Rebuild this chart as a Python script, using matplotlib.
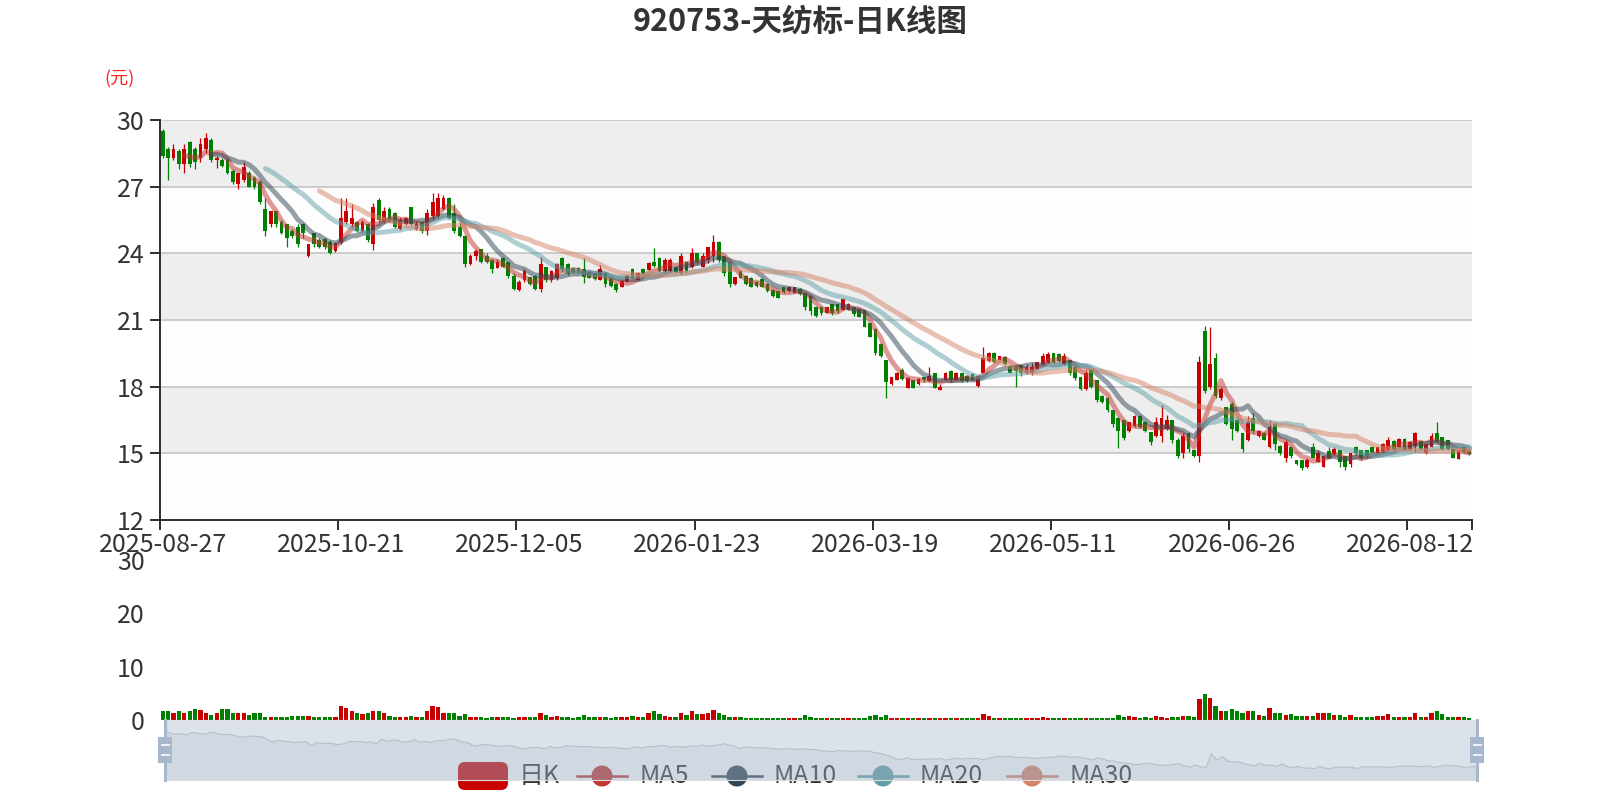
import numpy as np
import pandas as pd
import matplotlib
matplotlib.use("Agg")
import matplotlib.pyplot as plt
from matplotlib.patches import FancyBboxPatch, Rectangle, Circle

plt.rcParams['font.family'] = ['Noto Sans CJK SC', 'DejaVu Sans']

title = "920753-天纺标-日K线图"
unit_label = "(元)"
date_labels = ["2025-08-27", "2025-10-21", "2025-12-05", "2026-01-23",
               "2026-03-19", "2026-05-11", "2026-06-26", "2026-08-12"]
label_step = 33
legend_names = ["日K", "MA5", "MA10", "MA20", "MA30"]
ma_days = [5, 10, 20, 30]

opens = [
    29.5, 28.7, 28.3, 28.6, 28.0, 29.0, 28.7, 28.3, 28.7, 29.1,
    28.2, 28.2, 28.2, 27.7, 27.1, 27.3, 27.6, 27.4, 27.2, 26.0,
    25.3, 25.9, 25.4, 25.3, 25.0, 25.2, 25.3, 23.9, 24.9, 24.6,
    24.65, 24.5, 24.1, 24.5, 25.4, 25.3, 25.4, 25.0, 25.3, 24.4,
    26.4, 25.4, 26.0, 25.8, 25.1, 25.3, 26.1, 25.1, 25.4, 25.0,
    25.7, 25.7, 26.0, 26.5, 25.8, 25.2, 24.8, 23.5, 23.9, 24.2,
    23.9, 23.7, 23.35, 23.8, 23.6, 23.0, 22.35, 22.8, 22.95, 23.0,
    22.4, 23.4, 22.8, 22.9, 23.8, 23.5, 23.35, 23.35, 23.3, 23.15,
    23.1, 22.8, 23.1, 22.9, 22.6, 22.5, 22.7, 23.3, 22.8, 23.3,
    23.25, 23.6, 23.8, 23.2, 23.2, 23.4, 23.1, 23.6, 23.4, 24.0,
    23.4, 23.7, 23.9, 24.5, 23.9, 23.6, 22.6, 23.2, 23.0, 22.9,
    22.73, 22.85, 22.6, 22.35, 22.3, 22.5, 22.3, 22.2, 22.4, 22.2,
    22.1, 21.6, 21.6, 21.3, 21.7, 21.7, 21.45, 21.45, 21.6, 21.5,
    21.45, 20.85, 20.6, 19.9, 19.2, 18.1, 18.3, 18.75, 17.95, 18.3,
    18.1, 18.45, 18.25, 18.6, 17.85, 18.3, 18.7, 18.3, 18.6, 18.5,
    18.55, 18.05, 18.6, 19.15, 19.5, 19.2, 19.35, 18.95, 18.95, 18.98,
    18.6, 18.6, 18.8, 19.0, 19.1, 19.5, 19.45, 19.0, 19.2, 18.9,
    18.45, 17.9, 18.75, 18.3, 17.6, 17.5, 16.95, 16.6, 16.5, 16.0,
    16.25, 16.7, 16.4, 15.95, 15.8, 15.8, 16.1, 16.5, 15.6, 15.0,
    15.9, 15.15, 14.9, 20.5, 18.0, 19.3, 17.5, 17.1, 17.2, 16.5,
    15.9, 15.6, 16.6, 15.8, 15.9, 15.3, 16.3, 15.35, 14.8, 15.3,
    14.68, 14.7, 14.4, 15.3, 14.6, 14.4, 15.1, 14.95, 15.15, 14.9,
    14.5, 15.3, 15.15, 15.15, 15.3, 15.0, 15.1, 15.15, 15.55, 15.3,
    15.65, 15.2, 15.35, 15.55, 15.0, 15.3, 15.9, 15.75, 15.6, 15.2,
    14.75, 15.3, 15.1]

closes = [
    28.4, 28.3, 28.7, 28.0, 28.7, 28.0, 28.1, 28.9, 29.2, 28.2,
    28.3, 27.95, 27.6, 27.2, 27.6, 27.9, 27.0, 27.0, 26.3, 25.0,
    25.9, 25.3, 24.9, 24.7, 24.8, 24.4, 24.9, 24.4, 24.4, 24.3,
    24.3, 24.0, 24.45, 25.6, 25.9, 25.6, 25.0, 25.4, 24.6, 26.1,
    25.5, 25.9, 25.5, 25.2, 25.5, 25.6, 25.3, 25.3, 25.0, 25.8,
    26.3, 26.5, 26.5, 25.6, 25.0, 24.8, 23.5, 23.9, 24.1, 23.6,
    23.6, 23.3, 23.6, 23.4, 23.0, 22.4, 22.7, 23.2, 22.6, 22.4,
    23.5, 22.8, 23.2, 23.5, 23.3, 23.1, 23.15, 23.15, 22.95, 22.9,
    22.85, 23.3, 22.6, 22.55, 22.35, 22.75, 23.0, 22.9, 23.1, 23.05,
    23.55, 23.45, 23.2, 23.7, 23.7, 23.15, 23.9, 23.2, 24.0, 23.6,
    23.9, 24.3, 24.5, 23.7, 23.1, 22.6, 22.95, 22.9, 22.6, 22.5,
    22.55, 22.5, 22.3, 22.1, 22.0, 22.25, 22.5, 22.5, 22.15, 21.6,
    21.4, 21.2, 21.3, 21.6, 21.3, 21.4, 21.95, 21.7, 21.25, 21.15,
    20.7, 20.25, 19.5, 19.4, 18.2, 18.45, 18.6, 18.35, 18.4, 17.95,
    18.35, 18.3, 18.5, 17.95, 18.0, 18.6, 18.3, 18.6, 18.25, 18.25,
    18.3, 18.5, 19.3, 19.5, 19.1, 19.4, 19.0, 18.6, 18.7, 18.6,
    18.9, 18.9, 19.1, 19.4, 19.45, 19.1, 19.15, 19.4, 18.6, 18.4,
    17.9, 18.6, 18.0, 17.4, 17.3, 16.95, 16.3, 16.0, 15.7, 16.4,
    16.7, 16.2, 16.0, 15.5, 16.4, 16.6, 16.5, 15.6, 14.9, 15.8,
    15.2, 14.9, 19.1, 17.8, 19.0, 17.6, 17.9, 16.3, 16.1, 16.0,
    15.2, 16.4, 16.0, 16.0, 15.6, 16.2, 15.4, 15.0, 15.5, 14.9,
    14.5, 14.35, 14.7, 14.8, 15.0, 14.9, 14.8, 15.2, 14.6, 14.4,
    15.0, 15.0, 14.8, 14.9, 15.0, 15.3, 15.4, 15.6, 15.2, 15.65,
    15.2, 15.5, 15.9, 15.2, 15.4, 15.8, 15.5, 15.2, 15.2, 14.8,
    15.1, 15.05, 14.95]

lows = [
    28.3, 27.3, 28.2, 27.8, 27.6, 27.9, 27.8, 28.1, 28.5, 28.1,
    27.85, 27.9, 27.55, 27.1, 26.9, 27.2, 27.0, 26.9, 26.2, 24.8,
    25.2, 25.2, 24.85, 24.3, 24.7, 24.3, 24.7, 23.85, 24.3, 24.25,
    24.2, 23.95, 24.05, 24.4, 25.3, 25.2, 24.97, 24.95, 24.5, 24.15,
    25.4, 25.35, 25.4, 25.13, 25.05, 25.28, 25.28, 25.05, 24.9, 24.83,
    25.5, 25.6, 25.95, 25.55, 24.9, 24.75, 23.4, 23.48, 23.7, 23.55,
    23.55, 23.1, 23.33, 23.4, 22.9, 22.35, 22.3, 22.73, 22.57, 22.35,
    22.28, 22.73, 22.73, 22.8, 23.17, 23.03, 23.1, 23.1, 22.65, 22.88,
    22.8, 22.8, 22.5, 22.5, 22.28, 22.5, 22.73, 22.88, 22.8, 23.03,
    23.25, 23.4, 23.18, 23.18, 23.18, 23.1, 23.03, 23.1, 23.33, 23.55,
    23.4, 23.55, 23.6, 23.6, 23.0, 22.5, 22.58, 22.88, 22.58, 22.5,
    22.5, 22.5, 22.28, 22.05, 21.98, 22.2, 22.28, 22.2, 22.13, 21.45,
    21.22, 21.15, 21.22, 21.3, 21.22, 21.3, 21.45, 21.45, 21.2, 21.12,
    20.7, 20.25, 19.43, 19.35, 17.48, 18.08, 18.3, 18.3, 17.93, 17.93,
    18.08, 18.23, 18.23, 17.93, 17.85, 18.3, 18.23, 18.3, 18.23, 18.23,
    18.3, 18.0, 18.6, 19.13, 19.05, 19.2, 18.98, 18.6, 18.0, 18.5,
    18.55, 18.53, 18.8, 18.98, 19.05, 19.05, 19.13, 18.98, 18.53, 18.3,
    17.85, 17.85, 17.93, 17.33, 17.25, 16.88, 16.2, 15.23, 15.6, 15.98,
    16.2, 16.13, 15.98, 15.38, 15.75, 15.53, 16.05, 15.45, 14.78, 14.78,
    15.08, 14.85, 14.6, 17.7, 17.9, 17.5, 17.4, 16.28, 15.6, 15.95,
    15.08, 15.55, 15.9, 15.75, 15.6, 15.25, 15.15, 14.93, 14.63, 14.78,
    14.48, 14.25, 14.33, 14.78, 14.6, 14.4, 14.78, 14.93, 14.4, 14.25,
    14.4, 14.93, 14.7, 14.78, 15.0, 15.0, 15.08, 15.15, 15.15, 15.3,
    15.15, 15.15, 15.08, 15.15, 14.95, 15.3, 15.5, 15.15, 15.15, 14.78,
    14.73, 15.0, 14.93]

highs = [
    29.6, 28.8, 28.9, 28.7, 28.9, 29.05, 28.8, 29.2, 29.4, 29.2,
    28.4, 28.3, 28.3, 27.8, 27.6, 28.1, 27.7, 27.5, 27.3, 26.5,
    25.9, 25.9, 25.5, 25.3, 25.1, 25.3, 25.35, 24.4, 24.9, 24.7,
    24.7, 24.6, 24.5, 26.5, 26.5, 26.2, 25.45, 25.5, 25.35, 26.25,
    26.5, 26.1, 26.1, 25.85, 25.65, 25.65, 26.1, 25.45, 25.43, 26.0,
    26.7, 26.7, 26.63, 26.55, 26.2, 25.35, 24.83, 23.95, 24.2, 24.2,
    24.0, 23.75, 23.75, 23.85, 23.6, 23.1, 22.8, 23.3, 22.95, 23.03,
    23.85, 23.4, 23.25, 23.55, 23.82, 23.55, 23.4, 23.4, 23.78, 23.2,
    23.1, 23.48, 23.18, 22.95, 22.65, 22.8, 23.03, 23.33, 23.18, 23.33,
    23.63, 24.22, 23.85, 23.78, 23.78, 23.4, 24.0, 23.6, 24.22, 24.0,
    24.0, 24.3, 24.82, 24.55, 23.9, 23.63, 22.95, 23.25, 23.03, 22.95,
    22.75, 22.9, 22.65, 22.4, 22.3, 22.5, 22.5, 22.5, 22.43, 22.2,
    22.13, 21.6, 21.6, 21.6, 21.7, 21.7, 21.98, 21.75, 21.6, 21.5,
    21.45, 20.85, 20.63, 19.95, 19.2, 18.45, 18.68, 18.83, 18.45, 18.3,
    18.38, 18.45, 18.9, 18.6, 18.1, 18.68, 18.75, 18.68, 18.6, 18.53,
    18.6, 18.53, 19.8, 19.58, 19.58, 19.4, 19.4, 18.98, 18.98, 18.98,
    19.0, 19.08, 19.13, 19.5, 19.58, 19.5, 19.5, 19.5, 19.2, 18.93,
    18.45, 18.78, 18.75, 18.3, 17.63, 17.52, 16.95, 16.65, 16.5, 16.43,
    16.73, 16.73, 16.43, 15.98, 16.65, 17.18, 16.73, 16.5, 15.68, 15.9,
    15.9, 15.15, 19.4, 20.75, 20.7, 19.5, 18.0, 17.1, 17.3, 16.55,
    15.9, 16.7, 16.8, 16.05, 15.98, 16.5, 16.4, 15.38, 15.6, 15.3,
    14.7, 14.7, 14.78, 15.45, 15.15, 14.93, 15.3, 15.3, 15.15, 14.9,
    15.0, 15.33, 15.15, 15.15, 15.33, 15.3, 15.45, 15.75, 15.6, 15.68,
    15.68, 15.55, 15.98, 15.55, 15.4, 15.9, 16.43, 15.75, 15.6, 15.22,
    15.15, 15.3, 15.15]

volumes = [
    1.6, 1.6, 1.3, 1.6, 1.3, 1.6, 2.0, 1.9, 1.4, 1.0,
    1.3, 2.0, 2.0, 1.4, 1.4, 1.4, 0.9, 1.4, 1.4, 0.6,
    0.6, 0.55, 0.6, 0.65, 0.75, 0.75, 0.7, 0.8, 0.6, 0.5,
    0.5, 0.6, 0.6, 2.6, 2.2, 1.6, 1.25, 1.05, 1.4, 1.75,
    1.75, 1.25, 0.8, 0.5, 0.5, 0.55, 0.8, 0.5, 0.5, 1.6,
    2.7, 2.5, 1.4, 1.4, 1.25, 0.8, 1.1, 0.5, 0.55, 0.5,
    0.45, 0.5, 0.5, 0.55, 0.5, 0.45, 0.5, 0.55, 0.5, 0.5,
    1.4, 0.9, 0.5, 0.8, 0.6, 0.5, 0.4, 0.5, 0.9, 0.5,
    0.5, 0.55, 0.5, 0.45, 0.5, 0.55, 0.5, 0.75, 0.5, 0.5,
    1.4, 1.6, 1.1, 0.75, 0.5, 0.6, 1.4, 0.9, 1.75, 1.1,
    1.1, 1.4, 1.9, 1.25, 0.9, 0.6, 0.55, 0.55, 0.45, 0.4,
    0.4, 0.35, 0.4, 0.4, 0.45, 0.4, 0.45, 0.45, 0.4, 0.9,
    0.6, 0.4, 0.35, 0.4, 0.4, 0.45, 0.4, 0.4, 0.35, 0.4,
    0.4, 0.75, 0.9, 0.5, 0.95, 0.4, 0.4, 0.45, 0.4, 0.4,
    0.35, 0.4, 0.45, 0.4, 0.4, 0.4, 0.45, 0.4, 0.35, 0.4,
    0.4, 0.45, 1.1, 0.75, 0.4, 0.4, 0.35, 0.4, 0.4, 0.45,
    0.4, 0.4, 0.45, 0.5, 0.45, 0.4, 0.45, 0.4, 0.4, 0.45,
    0.4, 0.45, 0.4, 0.4, 0.35, 0.4, 0.45, 1.0, 0.6, 0.7,
    0.55, 0.45, 0.5, 0.45, 0.75, 0.6, 0.45, 0.5, 0.6, 0.75,
    0.75, 0.5, 3.9, 4.8, 4.1, 2.7, 1.7, 1.6, 2.0, 1.7,
    1.25, 1.75, 1.6, 0.95, 0.75, 2.3, 1.4, 1.25, 0.95, 1.05,
    0.75, 0.75, 0.8, 0.75, 1.25, 1.3, 1.3, 0.95, 0.95, 0.5,
    0.95, 0.6, 0.6, 0.6, 0.6, 0.8, 0.75, 1.1, 0.6, 0.5,
    0.6, 0.5, 1.25, 0.6, 0.6, 1.25, 1.7, 1.1, 0.5, 0.5,
    0.5, 0.5, 0.4]

UP = '#c80000'
DOWN = '#008000'
MA_COLORS = ['#c23531', '#2f4554', '#61a0a8', '#d48265']
TXT = '#333333'

W, H = 1600, 800


def rect(l, t, r, b):
    return [l / W, 1 - b / H, (r - l) / W, (b - t) / H]


fig = plt.figure(figsize=(16, 8), dpi=100)
fig.patch.set_facecolor('white')

o = np.array(opens); c = np.array(closes); lo = np.array(lows); hi = np.array(highs)
n = len(c)
x = np.arange(n)
up = c >= o
cols = np.where(up, UP, DOWN)

# ---------------- price panel ----------------
ax = fig.add_axes(rect(160, 120, 1472, 520))
ax.set_xlim(-0.5, n - 0.5)
ax.set_ylim(12, 30)
for k in range(6):
    b = 12 + 3 * k
    ax.axhspan(b, b + 3, color='#fdfdfd' if k % 2 == 0 else '#eeeeee', zorder=0, lw=0)
for yv in range(15, 31, 3):
    ax.axhline(yv, color='#cccccc', lw=1.44, zorder=0.5)

ax.vlines(x, lo, hi, colors=cols, linewidth=0.9, zorder=2)
ax.bar(x, np.maximum(np.abs(c - o), 0.03), bottom=np.minimum(o, c), width=0.7,
       color=cols, linewidth=0, zorder=2)

cs = pd.Series(closes)
for d, col in zip(ma_days, MA_COLORS):
    ma = cs.rolling(d).mean()
    ax.plot(x, ma, color=col, lw=3.6, alpha=0.5, zorder=3, solid_capstyle='round')

for s in ['top', 'right']:
    ax.spines[s].set_visible(False)
for s in ['left', 'bottom']:
    ax.spines[s].set_color(TXT)
    ax.spines[s].set_linewidth(1.44)
ax.set_yticks(range(12, 31, 3))
ax.tick_params(axis='y', direction='out', length=7.2, width=1.44, color=TXT,
               labelsize=18, labelcolor=TXT, pad=4)
bounds = [i * label_step - 0.5 for i in range(len(date_labels))] + [n - 0.5]
ax.set_xticks(bounds)
ax.set_xticklabels([''] * len(bounds))
ax.set_xticks([i * label_step for i in range(len(date_labels))], minor=True)
ax.set_xticklabels(date_labels, minor=True)
ax.tick_params(axis='x', which='major', direction='out', length=7.2, width=1.44, color=TXT)
ax.tick_params(axis='x', which='minor', length=0, labelsize=18, labelcolor=TXT, pad=9)

# ---------------- volume panel ----------------
axv = fig.add_axes(rect(160, 560, 1472, 720))
axv.set_xlim(-0.5, n - 0.5)
axv.set_ylim(0, 30)
axv.bar(x, volumes, width=0.8, color=cols, linewidth=0)
for s in axv.spines.values():
    s.set_visible(False)
axv.set_facecolor('none')
axv.set_yticks([0, 10, 20, 30])
axv.set_xticks([])
axv.tick_params(axis='y', length=0, labelsize=18, labelcolor=TXT, pad=11)

# ---------------- overlay: title, unit, legend, slider ----------------
ov = fig.add_axes([0, 0, 1, 1])
ov.set_xlim(0, W)
ov.set_ylim(H, 0)
ov.set_axis_off()

ov.text(800, 22, title, ha='center', va='center', fontsize=22, fontweight='bold', color=TXT)
ov.text(119, 79, unit_label, ha='center', va='center', fontsize=13, color='#ff2020')

# legend (drawn beneath slider filler)
ly = 776
ov.add_patch(FancyBboxPatch((458, ly - 14), 50, 28, boxstyle='round,pad=0,rounding_size=7',
                            facecolor=UP, edgecolor='none', zorder=1))
ov.text(519, ly, legend_names[0], ha='left', va='center', fontsize=18, color=TXT, zorder=1)
lcx = [602, 737, 883, 1032]
for cx, col, name in zip(lcx, MA_COLORS, legend_names[1:]):
    ov.plot([cx - 25, cx + 25], [ly, ly], color=col, lw=1.8, zorder=1)
    ov.add_patch(Circle((cx, ly), 10.5, facecolor=col, edgecolor='none', zorder=1))
    ov.text(cx + 37, ly, name, ha='left', va='center', fontsize=18, color=TXT, zorder=1)

# slider
sl_l, sl_r, sl_t, sl_b = 165, 1477, 720, 780
vals = o
ext = vals.max() - vals.min()
vlo, vhi = vals.min() - 0.3 * ext, vals.max() + 0.3 * ext
sx = np.linspace(sl_l, sl_r, n)
sy = sl_b - (vals - vlo) / (vhi - vlo) * (sl_b - sl_t)
ov.fill_between(sx, sy, sl_b, color=(47/255, 69/255, 84/255, 0.09), lw=0, zorder=2)
ov.plot(sx, sy, color=(47/255, 69/255, 84/255, 0.3), lw=0.8, zorder=2)
ov.add_patch(Rectangle((sl_l, sl_t), sl_r - sl_l, sl_b - sl_t,
                       facecolor=(167/255, 183/255, 204/255, 0.4), edgecolor='#dddddd',
                       lw=0.8, zorder=3))
for hx in (sl_l, sl_r):
    ov.plot([hx, hx], [sl_t, sl_b], color='#a7b7cc', lw=2.2, zorder=4)
    ov.add_patch(Rectangle((hx - 7, 737), 14, 26, facecolor='#a7b7cc', edgecolor='none', zorder=4))
    for yy in (745, 755):
        ov.plot([hx - 3.5, hx + 3.5], [yy, yy], color='white', lw=1.2, zorder=5)

fig.savefig('out.png', dpi=100)
